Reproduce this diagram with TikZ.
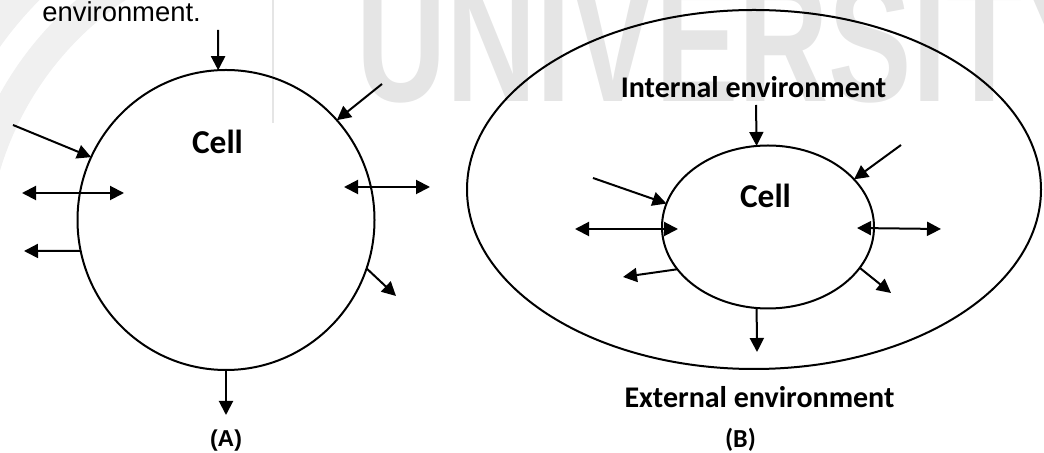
\documentclass[tikz,border=0pt]{standalone}
\usepackage{fontspec}
\setmainfont{Carlito}
\newfontfamily\arialfont{Liberation Sans}
\usetikzlibrary{arrows.meta}
\usetikzlibrary{shapes.geometric}

\begin{document}
\begin{tikzpicture}[x=0.5pt,y=-0.5pt,
  arr/.style={-{Triangle[length=7pt,width=7pt]},line width=1pt},
  darr/.style={{Triangle[length=7pt,width=7pt]}-{Triangle[length=7pt,width=7pt]},line width=1pt},
  cellshape/.style={draw,ellipse,line width=1pt,inner sep=0pt,outer sep=0pt},
  lbl/.style={font=\bfseries\fontsize{15}{18}\selectfont,inner sep=0pt,anchor=base}]
  \useasboundingbox (0,0) rectangle (1044,453);

  % faint background marks
  \begin{scope}
    \clip (0,0) rectangle (1044,453);
    \draw[black!6,line width=15pt] (300,260) ++(190:328) arc[start angle=190,end angle=260,radius=328];
    \draw[black!6,line width=25pt] (300,260) ++(185:393) arc[start angle=185,end angle=265,radius=393];
    \draw[black!10,line width=0.8pt] (273,0) -- (273,123);
    \node[anchor=base west,inner sep=0pt,text=black!10,
      font=\arialfont\bfseries\fontsize{62.5}{70}\selectfont] (wmark) at (356,102)
      {\scalebox{1}[1.4]{UNIVERSITY}};
  \end{scope}

  \node[anchor=base west,inner sep=0pt,font=\arialfont\fontsize{13.7}{16}\selectfont] (envtxt) at (42,22) {environment.};

  % (A) the cell alone
  \node[cellshape,minimum width=148.5pt,minimum height=150pt] (cellA) at (226,220) {};
  \node[lbl,font=\bfseries\fontsize{16.7}{20}\selectfont] (cellAtxt) at (217.5,154) {Cell};
  \coordinate (a1) at (218,30);
  \coordinate (a2) at (382,84);
  \coordinate (a3) at (13,125);
  \coordinate (a4l) at (22,193);
  \coordinate (a4r) at (124,193);
  \coordinate (a5) at (24,251);
  \coordinate (a6l) at (344,187);
  \coordinate (a6r) at (430,187);
  \coordinate (a7) at (396,296);
  \coordinate (a8) at (226,415);
  \draw[arr] (a1) -- (cellA.93);
  \draw[arr] (a2) -- (cellA.42);
  \draw[arr] (a3) -- (cellA.155);
  \draw[darr] (a4l) -- (a4r);
  \draw[arr] (cellA.192) -- (a5);
  \draw[darr] (a6l) -- (a6r);
  \draw[arr] (cellA.341) -- (a7);
  \draw[arr] (cellA.south) -- (a8);
  \node[anchor=base,inner sep=0pt,font=\arialfont\bfseries\fontsize{11.5}{14}\selectfont] (labA) at (226,447) {(A)};

  % (B) the cell inside its surroundings
  \node[cellshape,minimum width=287pt,minimum height=179.5pt] (envB) at (754,189.5) {};
  \node[cellshape,minimum width=106pt,minimum height=81.5pt] (cellB) at (768,227) {};
  \node[lbl] (intB) at (753.5,98) {Internal environment};
  \node[lbl,font=\bfseries\fontsize{16.7}{20}\selectfont] (cellBtxt) at (765.5,208) {Cell};
  \node[lbl] (extB) at (759.5,408) {External environment};
  \coordinate (b1) at (756,105);
  \coordinate (b2) at (901,145);
  \coordinate (b3) at (593,178);
  \coordinate (b4l) at (575,229);
  \coordinate (b4r) at (678,229);
  \coordinate (b5) at (623,277);
  \coordinate (b6l) at (857,228);
  \coordinate (b6r) at (941,229);
  \coordinate (b7) at (891,293);
  \coordinate (b8) at (757,352);
  \draw[arr] (b1) -- (cellB.98);
  \draw[arr] (b2) -- (cellB.29);
  \draw[arr] (b3) -- (cellB.167);
  \draw[darr] (b4l) -- (b4r);
  \draw[arr] (cellB.205) -- (b5);
  \draw[darr] (b6l) -- (b6r);
  \draw[arr] (cellB.336) -- (b7);
  \draw[arr] (cellB.262) -- (b8);
  \node[lbl,font=\bfseries\fontsize{13}{16}\selectfont] (labB) at (740.5,448) {(B)};
\end{tikzpicture}
\end{document}
